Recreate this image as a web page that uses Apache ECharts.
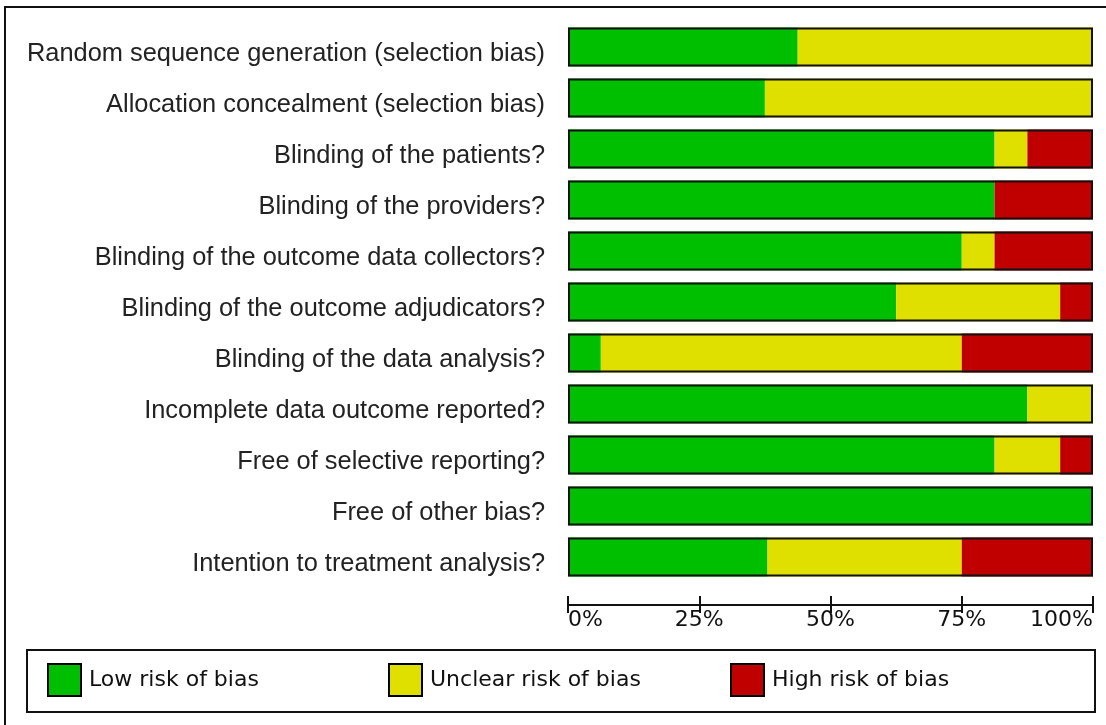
<!DOCTYPE html>
<html>
<head>
<meta charset="utf-8">
<script src="https://cdn.jsdelivr.net/npm/echarts@6/dist/echarts.min.js"></script>
<style>
html,body{margin:0;padding:0;background:#fff;}
#chart{width:1106px;height:725px;}
</style>
</head>
<body>
<div id="chart"></div>
<script>
const categories = [
  'Random sequence generation (selection bias)',
  'Allocation concealment (selection bias)',
  'Blinding of the patients?',
  'Blinding of the providers?',
  'Blinding of the outcome data collectors?',
  'Blinding of the outcome adjudicators?',
  'Blinding of the data analysis?',
  'Incomplete data outcome reported?',
  'Free of selective reporting?',
  'Free of other bias?',
  'Intention to treatment analysis?'
];
const lowRisk     = [43.75, 37.5, 81.25, 81.25, 75, 62.5, 6.25, 87.5, 81.25, 100, 38];
const unclearRisk = [56.25, 62.5, 6.25, 0, 6.25, 31.25, 68.75, 12.5, 12.5, 0, 37];
const highRisk    = [0, 0, 12.5, 18.75, 18.75, 6.25, 25, 0, 6.25, 0, 25];
const frameValues = [100, 100, 100, 100, 100, 100, 100, 100, 100, 100, 100];
const xTicks = [0, 25, 50, 75, 100];
const seriesNames = ['Low risk of bias', 'Unclear risk of bias', 'High risk of bias'];

const GREEN = '#00bf00', YELLOW = '#e0e000', RED = '#c00000';
const chart = echarts.init(document.getElementById('chart'));
const BW = 39;
const tickFont = 'DejaVu Sans';

function seg(name, data, color) {
  return {
    name: name, type: 'bar', stack: 'risk', data: data, barWidth: BW, barGap: '-100%',
    itemStyle: { color: color }, silent: true, z: 2
  };
}

const legendBase = {
  orient: 'horizontal', top: 663, padding: 0, itemWidth: 33, itemHeight: 32, icon: 'rect',
  selectedMode: false,
  textStyle: { fontFamily: tickFont, fontSize: 22, color: '#111', padding: [0, 0, 0, 3] },
  itemStyle: { borderColor: '#000', borderWidth: 2 }
};

chart.setOption({
  backgroundColor: '#fff',
  animation: false,
  grid: { left: 568, right: 13, top: 21.5, bottom: 725 - 582.5, containLabel: false },
  xAxis: [{
    type: 'value', min: 0, max: 100, interval: 25, position: 'bottom', offset: 22.5,
    axisLine: { show: true, lineStyle: { color: '#111', width: 2 } },
    axisTick: { show: true, inside: false, length: 8, lineStyle: { color: '#111', width: 2 } },
    axisLabel: {
      show: true, margin: 4, fontFamily: tickFont, fontSize: 22, color: '#111',
      alignMinLabel: 'left', alignMaxLabel: 'right',
      formatter: function (v) { return xTicks.indexOf(v) >= 0 ? v + '%' : ''; }
    },
    splitLine: { show: false }
  }, {
    type: 'value', min: 0, max: 100, interval: 25, position: 'bottom', offset: 22.5,
    axisLine: { show: false },
    axisTick: { show: true, inside: true, length: 9, lineStyle: { color: '#111', width: 2 } },
    axisLabel: { show: false },
    splitLine: { show: false }
  }],
  yAxis: {
    type: 'category', data: categories, inverse: true,
    axisLine: { show: false }, axisTick: { show: false },
    axisLabel: {
      margin: 23,
      formatter: function (v) { return '{a|' + v + '}'; },
      rich: {
        a: { fontFamily: 'Liberation Sans', fontSize: 25.4, color: '#222', padding: [14, 0, 0, 0] }
      }
    }
  },
  legend: [
    Object.assign({}, legendBase, { left: 47, data: [seriesNames[0]] }),
    Object.assign({}, legendBase, { left: 388, data: [seriesNames[1]] }),
    Object.assign({}, legendBase, { left: 730, data: [seriesNames[2]] })
  ],
  graphic: [
    { type: 'rect', shape: { x: 5, y: 7, width: 1300, height: 900 }, style: { fill: 'none', stroke: '#111', lineWidth: 2 }, silent: true },
    { type: 'rect', shape: { x: 27, y: 650, width: 1068, height: 62 }, style: { fill: 'none', stroke: '#111', lineWidth: 2 }, silent: true }
  ],
  series: [
    seg(seriesNames[0], lowRisk, GREEN),
    seg(seriesNames[1], unclearRisk, YELLOW),
    seg(seriesNames[2], highRisk, RED),
    {
      name: 'frame', type: 'bar', data: frameValues, barWidth: BW, barGap: '-100%',
      itemStyle: { color: 'rgba(0,0,0,0)', borderColor: '#111', borderWidth: 2 },
      silent: true, z: 3
    }
  ]
});
</script>
</body>
</html>
